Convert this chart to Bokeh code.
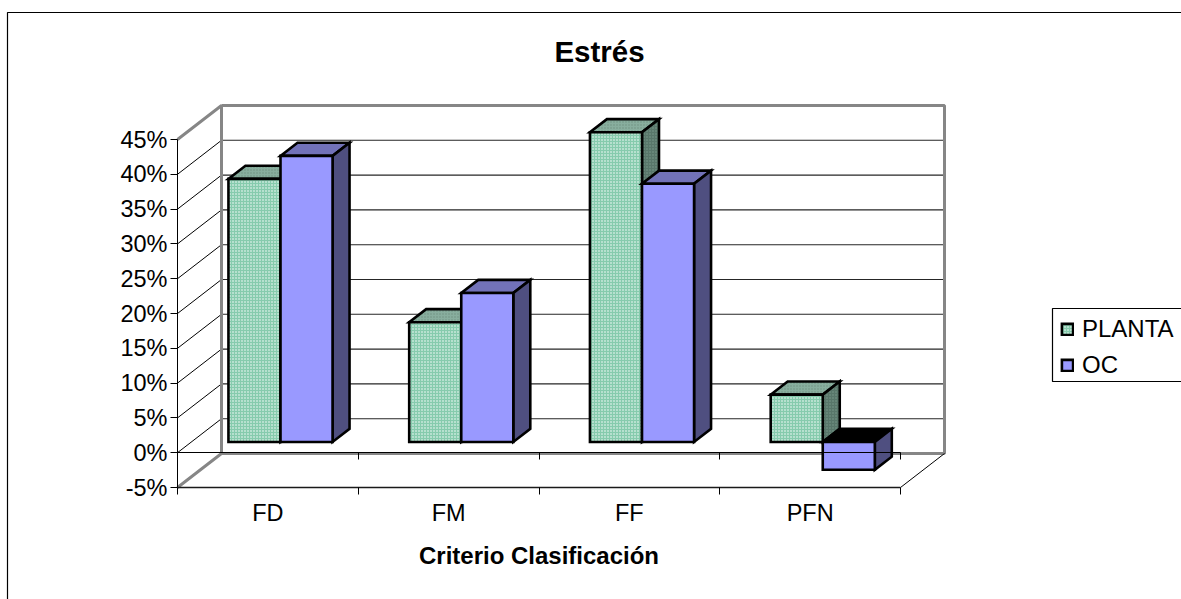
from bokeh.embed import file_html
from bokeh.models import (BoxAnnotation, FixedTicker, Label, Legend, LegendItem,
                          LinearAxis, NumeralTickFormatter, Range1d)
from bokeh.plotting import figure
from bokeh.resources import INLINE

# Survey results
categories = ["FD", "FM", "FF", "PFN"]
planta = [0.378, 0.172, 0.445, 0.068]
oc = [0.411, 0.214, 0.371, -0.040]
y_ticks = [-0.05, 0.0, 0.05, 0.10, 0.15, 0.20, 0.25, 0.30, 0.35, 0.40, 0.45]

FONT = "Liberation Sans"
W, H = 1181, 599

# Plot box: pixels per category and per unit of value on the front plane
PX_X0, PX_CAT = 177.0, 180.75
PX_Y_MINUS5, PX_UNIT = 487.0, 696.0

# Oblique projection of the third dimension, expressed in data units
DEPTH_X = 44.0 / PX_CAT
DEPTH_Y = 34.0 / PX_UNIT
BAR_D0, BAR_D1 = 0.287, 0.673
BAR_W, BAR_GAP = 0.288, 0.212
BAR_LIFT = 1.0 / PX_UNIT


def proj(x, y, d):
    return x + d * DEPTH_X, y + d * DEPTH_Y


def poly(points, lift=0.0):
    xs, ys = zip(*[proj(*pt) for pt in points])
    return list(xs), [y + lift for y in ys]


p = figure(
    width=W, height=H, output_backend="svg", toolbar_location=None,
    x_range=Range1d((0 - PX_X0) / PX_CAT, (W - PX_X0) / PX_CAT),
    y_range=Range1d(-0.05 + (PX_Y_MINUS5 - H) / PX_UNIT, -0.05 + PX_Y_MINUS5 / PX_UNIT),
    x_axis_location=None, y_axis_location=None, min_border=0,
    outline_line_color=None, background_fill_color="white", border_fill_color="white",
)
p.grid.visible = False

# Chart outline, open past the right and bottom edges of the page
p.add_layout(BoxAnnotation(left=7, right=W + 20, top=H - 12, bottom=-20,
                           left_units="screen", right_units="screen",
                           top_units="screen", bottom_units="screen",
                           fill_alpha=0, line_color="black", line_alpha=1, line_width=1.2,
                           level="underlay"))

n = len(categories)
grid_vals = y_ticks[1:-1]

# Gridlines along the back and side walls
for v in grid_vals:
    xs, ys = poly([(0, v, 1), (n, v, 1)])
    p.line(xs, ys, line_color="#262626", line_width=1.1)
    xs, ys = poly([(0, v, 0), (0, v, 1)])
    p.line(xs, ys, line_color="black", line_width=1)

# Grey wall frame
WALL = "#868686"
xs, ys = poly([(0, 0.45, 0), (0, 0.45, 1), (0, -0.05, 1), (0, -0.05, 0)])
p.line(xs, ys, line_color=WALL, line_width=3)
xs, ys = poly([(0, 0.45, 1), (n, 0.45, 1), (n, -0.05, 1), (0, -0.05, 1)])
p.line(xs, ys, line_color=WALL, line_width=3)

# Floor edge on the right
xs, ys = poly([(n, -0.05, 0), (n, -0.05, 1)])
p.line(xs, ys, line_color="black", line_width=1)


def prism(i, offset, value):
    """Front, top and side polygons of one bar."""
    x0 = i + BAR_GAP + offset * BAR_W
    x1 = x0 + BAR_W
    front = poly([(x0, 0, BAR_D0), (x1, 0, BAR_D0), (x1, value, BAR_D0), (x0, value, BAR_D0)], BAR_LIFT)
    yt = max(value, 0)
    top = poly([(x0, yt, BAR_D0), (x1, yt, BAR_D0), (x1, yt, BAR_D1), (x0, yt, BAR_D1)], BAR_LIFT)
    side = poly([(x1, 0, BAR_D0), (x1, value, BAR_D0), (x1, value, BAR_D1), (x1, 0, BAR_D1)], BAR_LIFT)
    return front, top, side


EDGE = dict(line_color="black", line_width=2.6, line_join="miter")
series_renderers = []

for i in range(n):
    for offset, vals in ((0, planta), (1, oc)):
        front, top, side = prism(i, offset, vals[i])
        if offset == 0:
            p.patch(*top, fill_color="#88AE9E", hatch_pattern="dot", hatch_color="#6E9080",
                    hatch_scale=3, hatch_weight=1, **EDGE)
            p.patch(*side, fill_color="#58766A", hatch_pattern="dot", hatch_color="#7A9A8C",
                    hatch_scale=3, hatch_weight=1, **EDGE)
            r = p.patch(*front, fill_color="#86CBAD", hatch_pattern="dot", hatch_color="white",
                        hatch_scale=3, hatch_weight=1.2, **EDGE)
        else:
            # A bar below zero shows its shaded underside as black
            p.patch(*top, fill_color="black" if vals[i] < 0 else "#7272B8", **EDGE)
            p.patch(*side, fill_color="#4F4F80", **EDGE)
            r = p.patch(*front, fill_color="#9999FF", **EDGE)
        if i == 0:
            series_renderers.append(r)

# Value axis
y_axis = LinearAxis(fixed_location=0, bounds=(y_ticks[0], y_ticks[-1]),
                    ticker=FixedTicker(ticks=y_ticks),
                    formatter=NumeralTickFormatter(format="0%"),
                    major_tick_in=0, major_tick_out=7, minor_tick_line_color=None,
                    axis_line_color="black", major_tick_line_color="black",
                    major_label_text_font=FONT, major_label_text_font_size="23.5px",
                    major_label_text_color="black", major_label_standoff=3)
p.add_layout(y_axis, "left")

# Tick marks along the zero line, carried as unlabelled minor ticks
zero_axis = LinearAxis(fixed_location=0, bounds=(0, n),
                       ticker=FixedTicker(ticks=[], minor_ticks=list(range(1, n + 1))),
                       major_tick_line_color=None, minor_tick_in=0, minor_tick_out=7,
                       axis_line_color="black", minor_tick_line_color="black")
p.add_layout(zero_axis, "below")

# Lower front edge: category labels at the centres, tick marks between them
cat_axis = LinearAxis(fixed_location=-0.05, bounds=(0, n),
                      ticker=FixedTicker(ticks=[i + 0.5 for i in range(n)],
                                         minor_ticks=list(range(0, n + 1))),
                      major_label_overrides={i + 0.5: c for i, c in enumerate(categories)},
                      major_tick_line_color=None, minor_tick_in=0, minor_tick_out=7,
                      minor_tick_line_color="black", axis_line_color="#1a1a1a", axis_line_width=1.6,
                      major_label_text_font=FONT, major_label_text_font_size="23.5px",
                      major_label_text_color="black", major_label_standoff=5,
                      axis_label="Criterio Clasificación", axis_label_text_font=FONT,
                      axis_label_text_font_size="24px", axis_label_text_font_style="bold",
                      axis_label_text_color="black", axis_label_standoff=13)
p.add_layout(cat_axis, "below")

p.add_layout(Label(x=599, y=H - 51, x_units="screen", y_units="screen", text="Estrés",
                   text_font=FONT, text_font_size="29.5px", text_font_style="bold",
                   text_align="center", text_baseline="middle", text_color="black"))

# Legend frame, running off the right edge of the page
p.add_layout(BoxAnnotation(left=1052, right=W + 20, top=H - 308, bottom=H - 381,
                           left_units="screen", right_units="screen",
                           top_units="screen", bottom_units="screen",
                           fill_color="white", fill_alpha=1, line_color="black", line_alpha=1,
                           line_width=1.2, level="annotation"))

legend = Legend(
    items=[LegendItem(label="PLANTA", renderers=[series_renderers[0]]),
           LegendItem(label="OC", renderers=[series_renderers[1]])],
    location=(1060, H - 379), orientation="vertical",
    glyph_width=14, glyph_height=14, label_standoff=8, padding=8, margin=0, spacing=8,
    label_text_font=FONT, label_text_font_size="24px", label_text_color="black",
    label_width=100, border_line_color=None, background_fill_alpha=0,
)
p.add_layout(legend, "center")

open("out.html", "w").write(file_html(p, INLINE))
